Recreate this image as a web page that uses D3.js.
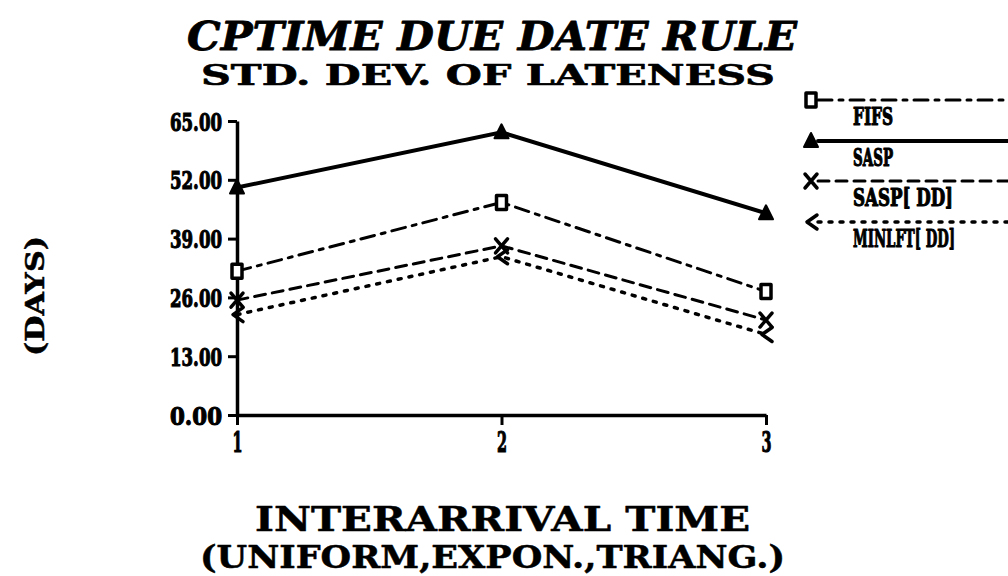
<!DOCTYPE html>
<html>
<head>
<meta charset="utf-8">
<script src="https://cdn.jsdelivr.net/npm/d3@7"></script>
<style>
  body { margin: 0; background: #fff; }
  svg { display: block; }
  text { fill: #000; }
</style>
</head>
<body>
<svg id="chart" width="1008" height="576"></svg>
<script>
// data
const categories = [1, 2, 3];
const yTicks = [0, 13, 26, 39, 52, 65];
const seriesNames = ["FIFS", "SASP", "SASP[ DD]", "MINLFT[ DD]"];
const fifs = [31.8, 47.0, 27.3];
const sasp = [50.3, 62.5, 44.6];
const saspDD = [25.4, 37.4, 21.0];
const minlftDD = [22.2, 35.0, 17.8];

const series = [
  { name: seriesNames[0], values: fifs, dash: "14,7,4,7", width: 3, marker: "square" },
  { name: seriesNames[1], values: sasp, dash: null, width: 4, marker: "triangle" },
  { name: seriesNames[2], values: saspDD, dash: "11,7", width: 3, marker: "cross" },
  { name: seriesNames[3], values: minlftDD, dash: "3,8", width: 3.5, marker: "arrow" }
];

const svg = d3.select("#chart");
const serif = "'DejaVu Serif', 'Liberation Serif', serif";

const x = d3.scaleLinear().domain([1, 3]).range([237, 766]);
const y = d3.scaleLinear().domain([0, 65]).range([415, 121]);

// heavy text helper: fill plus a thin black outline
function heavy(sel, w) {
  return sel.attr("stroke", "#000").attr("stroke-width", w).attr("stroke-linejoin", "round");
}

// titles
heavy(svg.append("text")
  .attr("x", 187).attr("y", 50)
  .attr("textLength", 610).attr("lengthAdjust", "spacingAndGlyphs")
  .style("font", `italic bold 40px ${serif}`)
  .text("CPTIME DUE DATE RULE"), 0.8);

heavy(svg.append("text")
  .attr("x", 201).attr("y", 85)
  .attr("textLength", 574).attr("lengthAdjust", "spacingAndGlyphs")
  .style("font", `bold 27px ${serif}`)
  .text("STD. DEV. OF LATENESS"), 0.6);

heavy(svg.append("text")
  .attr("x", 255).attr("y", 531)
  .attr("textLength", 495).attr("lengthAdjust", "spacingAndGlyphs")
  .style("font", `bold 34px ${serif}`)
  .text("INTERARRIVAL TIME"), 0.5);

heavy(svg.append("text")
  .attr("x", 200).attr("y", 568)
  .attr("textLength", 585).attr("lengthAdjust", "spacingAndGlyphs")
  .style("font", `bold 31px ${serif}`)
  .text("(UNIFORM,EXPON.,TRIANG.)"), 0.5);

heavy(svg.append("text")
  .attr("transform", "translate(44,356) rotate(-90)")
  .attr("textLength", 120).attr("lengthAdjust", "spacingAndGlyphs")
  .style("font", `bold 26px ${serif}`)
  .text("(DAYS)"), 0.5);

// axes
const yAxis = d3.axisLeft(y)
  .tickValues(yTicks)
  .tickFormat(d3.format(".2f"))
  .tickSize(9).tickSizeOuter(0).tickPadding(6);

const xAxis = d3.axisBottom(x)
  .tickValues(categories)
  .tickFormat(d3.format("d"))
  .tickSize(10).tickSizeOuter(0).tickPadding(6);

const gy = svg.append("g").attr("transform", `translate(${x(1)},0)`).call(yAxis);
const gx = svg.append("g").attr("transform", `translate(0,${y(0)})`).call(xAxis);

[gy, gx].forEach(g => {
  g.select(".domain").attr("stroke", "#000").attr("stroke-width", 3.5);
  g.selectAll(".tick line").attr("stroke", "#000").attr("stroke-width", 3);
  g.selectAll(".tick text")
    .style("font", `bold 25px ${serif}`)
    .attr("fill", "#000")
    .attr("stroke", "#000").attr("stroke-width", 1.2);
});
gy.selectAll(".tick text")
  .attr("textLength", 52).attr("lengthAdjust", "spacingAndGlyphs")
  .attr("dy", "0.36em");
gx.selectAll(".tick text")
  .style("font-size", "27px")
  .attr("textLength", 10).attr("lengthAdjust", "spacingAndGlyphs")
  .attr("dy", "0.78em");

// markers
function markerPath(kind) {
  if (kind === "triangle") return "M0,-8L7,6L-7,6Z";
  if (kind === "square") return "M-5,-7H5V7H-5Z";
  if (kind === "cross") return "M-6,-7L6,7M6,-7L-6,7";
  return "M6,-7L-4,0L6,7"; // arrow head pointing left
}

function drawMarker(g, kind, cx, cy) {
  const p = g.append("path")
    .attr("transform", `translate(${cx},${cy})`)
    .attr("d", markerPath(kind))
    .attr("stroke", "#000")
    .attr("stroke-linejoin", "round")
    .attr("stroke-linecap", "round");
  if (kind === "triangle") p.attr("fill", "#000").attr("stroke-width", 2);
  else if (kind === "square") p.attr("fill", "#fff").attr("stroke-width", 3.5);
  else p.attr("fill", "none").attr("stroke-width", 3.5);
}

const line = d3.line().x((d, i) => x(categories[i])).y(d => y(d));

const gLines = svg.append("g");
series.forEach(s => {
  gLines.append("path")
    .datum(s.values)
    .attr("d", line)
    .attr("fill", "none")
    .attr("stroke", "#000")
    .attr("stroke-width", s.width)
    .attr("stroke-linecap", "round")
    .attr("stroke-dasharray", s.dash);
  s.values.forEach((v, i) => drawMarker(gLines, s.marker, x(categories[i]), y(v)));
});

// legend
const legendY = [100, 141, 181, 222];
const labelW = [40, 40, 100, 102];
const gLeg = svg.append("g");
series.forEach((s, i) => {
  const ly = legendY[i];
  gLeg.append("line")
    .attr("x1", 818).attr("x2", 1010)
    .attr("y1", ly).attr("y2", ly)
    .attr("stroke", "#000")
    .attr("stroke-width", s.width)
    .attr("stroke-linecap", "round")
    .attr("stroke-dasharray", s.dash);
  drawMarker(gLeg, s.marker, 811, ly);
  // small font stretched vertically: tall, narrow labels like the plotter's
  heavy(gLeg.append("text")
    .attr("transform", `translate(853,${ly + 25}) scale(1,1.5)`)
    .attr("textLength", labelW[i]).attr("lengthAdjust", "spacingAndGlyphs")
    .style("font", `bold 16px ${serif}`)
    .text(s.name), 0.8);
});
</script>
</body>
</html>
